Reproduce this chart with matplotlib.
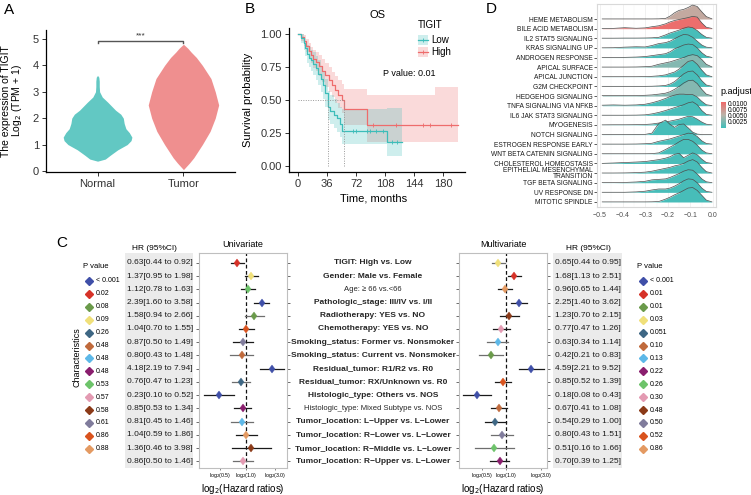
import numpy as np
import matplotlib
matplotlib.use('Agg')
import matplotlib.pyplot as plt
from matplotlib.colors import LinearSegmentedColormap, Normalize
from matplotlib.patches import Rectangle
import matplotlib.colorbar as mcolorbar

plt.rcParams['font.family'] = ['Liberation Sans', 'DejaVu Sans']

# ---------------- data ----------------
# A: violin outlines (expression value, half width)
groups = ['Normal', 'Tumor']
normal_y = [0.37, 0.45, 0.6, 0.8, 1.0, 1.15, 1.28, 1.45, 1.6, 1.8, 2.0, 2.15, 2.3, 2.45, 2.6, 2.8, 3.0, 3.2, 3.4, 3.55, 3.62]
normal_w = [0.0, 0.09, 0.15, 0.235, 0.345, 0.39, 0.40, 0.37, 0.33, 0.31, 0.30, 0.27, 0.21, 0.165, 0.12, 0.055, 0.024, 0.02, 0.02, 0.015, 0.0]
tumor_y = [0.05, 0.3, 0.5, 0.75, 1.0, 1.5, 2.0, 2.5, 3.0, 3.5, 4.0, 4.3, 4.5, 4.65, 4.8]
tumor_w = [0.0, 0.07, 0.12, 0.17, 0.22, 0.31, 0.37, 0.41, 0.37, 0.32, 0.22, 0.15, 0.09, 0.05, 0.0]

# B: Kaplan-Meier, months
low_time = [0, 4, 7, 9, 11, 13, 16, 19, 22, 25, 28, 31, 34, 37, 40, 44, 48, 52, 54, 110, 129]
low_surv = [1.0, 0.97, 0.93, 0.89, 0.85, 0.82, 0.80, 0.775, 0.74, 0.70, 0.66, 0.61, 0.55, 0.45, 0.42, 0.39, 0.36, 0.32, 0.265, 0.18, 0.18]
low_lower = [1.0, 0.93, 0.88, 0.83, 0.78, 0.75, 0.72, 0.69, 0.65, 0.61, 0.56, 0.51, 0.45, 0.35, 0.32, 0.29, 0.26, 0.22, 0.17, 0.075, 0.075]
low_upper = [1.0, 1.0, 0.98, 0.95, 0.92, 0.90, 0.88, 0.86, 0.83, 0.80, 0.76, 0.72, 0.66, 0.57, 0.54, 0.51, 0.48, 0.45, 0.43, 0.44, 0.44]
low_censor = [68, 72, 85, 89, 97, 105, 117, 123]
high_time = [0, 4, 7, 10, 13, 16, 19, 22, 26, 30, 34, 38, 42, 46, 50, 54, 57, 85, 170, 198]
high_surv = [1.0, 0.98, 0.95, 0.91, 0.87, 0.84, 0.81, 0.79, 0.76, 0.72, 0.69, 0.655, 0.61, 0.575, 0.54, 0.50, 0.43, 0.31, 0.31, 0.31]
high_lower = [1.0, 0.95, 0.91, 0.86, 0.82, 0.78, 0.74, 0.72, 0.68, 0.64, 0.60, 0.56, 0.52, 0.48, 0.44, 0.40, 0.31, 0.18, 0.18, 0.18]
high_upper = [1.0, 1.0, 0.99, 0.96, 0.93, 0.90, 0.88, 0.86, 0.84, 0.81, 0.78, 0.75, 0.71, 0.68, 0.65, 0.62, 0.585, 0.54, 0.60, 0.60]
high_censor = [93, 122, 155, 163, 190]
low_median = 37
high_median = 57

# C: forest plot
characteristics = ['TIGIT: High vs. Low', 'Gender: Male vs. Female', 'Age: \u2265 66 vs.<66',
                   'Pathologic_stage: III/IV vs. I/II', 'Radiotherapy: YES vs. NO',
                   'Chemotherapy: YES vs. NO', 'Smoking_status: Former vs. Nonsmoker',
                   'Smoking_status: Current vs. Nonsmoker', 'Residual_tumor: R1/R2 vs. R0',
                   'Residual_tumor: RX/Unknown vs. R0', 'Histologic_type: Others vs. NOS',
                   'Histologic_type: Mixed Subtype vs. NOS', 'Tumor_location: L\u2212Upper vs. L\u2212Lower',
                   'Tumor_location: R\u2212Lower vs. L\u2212Lower', 'Tumor_location: R\u2212Middle vs. L\u2212Lower',
                   'Tumor_location: R\u2212Upper vs. L\u2212Lower']
uni_hr = [0.63, 1.37, 1.12, 2.39, 1.58, 1.04, 0.87, 0.80, 4.18, 0.76, 0.23, 0.85, 0.81, 1.04, 1.36, 0.86]
uni_lo = [0.44, 0.95, 0.78, 1.60, 0.94, 0.70, 0.50, 0.43, 2.19, 0.47, 0.10, 0.53, 0.45, 0.59, 0.46, 0.50]
uni_hi = [0.92, 1.98, 1.63, 3.58, 2.66, 1.55, 1.49, 1.48, 7.94, 1.23, 0.52, 1.34, 1.46, 1.86, 3.98, 1.46]
multi_hr = [0.65, 1.68, 0.96, 2.25, 1.23, 0.77, 0.63, 0.42, 4.59, 0.85, 0.18, 0.67, 0.54, 0.80, 0.51, 0.70]
multi_lo = [0.44, 1.13, 0.65, 1.40, 0.70, 0.47, 0.34, 0.21, 2.21, 0.52, 0.08, 0.41, 0.29, 0.43, 0.16, 0.39]
multi_hi = [0.95, 2.51, 1.44, 3.62, 2.15, 1.26, 1.14, 0.83, 9.52, 1.39, 0.43, 1.08, 1.00, 1.51, 1.66, 1.25]
uni_p_labels = ['< 0.001', '0.02', '0.08', '0.09', '0.26', '0.48', '0.48', '0.48', '0.53', '0.57', '0.58', '0.61', '0.86', '0.88']
multi_p_labels = ['< 0.001', '0.01', '0.01', '0.03', '0.051', '0.10', '0.13', '0.22', '0.26', '0.30', '0.48', '0.50', '0.52', '0.86']
p_palette = ['#3F4FA8', '#D63228', '#6A9A4A', '#F0E07A', '#3E6784', '#C06A3C', '#5DB8E8',
             '#8A1E6E', '#6DC36A', '#E39AB2', '#8B3A18', '#807C9C', '#D9531E', '#E49A62']
uni_color = [1, 3, 8, 0, 2, 12, 11, 5, 0, 4, 0, 7, 6, 13, 10, 9]
multi_color = [3, 1, 13, 0, 10, 9, 6, 2, 0, 12, 0, 5, 4, 11, 8, 7]
uni_gray_rows = [4, 7, 9, 12, 15]
multi_gray_rows = [0, 6, 7, 13, 14]

# D: ridge densities on a shared grid
ridge_x = [-0.49, -0.44, -0.39, -0.34, -0.30, -0.27, -0.24, -0.21, -0.19, -0.17,
           -0.15, -0.13, -0.11, -0.09, -0.07, -0.05, -0.03, -0.005]
pathways = ['HEME METABOLISM', 'BILE ACID METABOLISM', 'IL2 STAT5 SIGNALING', 'KRAS SIGNALING UP',
            'ANDROGEN RESPONSE', 'APICAL SURFACE', 'APICAL JUNCTION', 'G2M CHECKPOINT',
            'HEDGEHOG SIGNALING', 'TNFA SIGNALING VIA NFKB', 'IL6 JAK STAT3 SIGNALING', 'MYOGENESIS',
            'NOTCH SIGNALING', 'ESTROGEN RESPONSE EARLY', 'WNT BETA CATENIN SIGNALING',
            'CHOLESTEROL HOMEOSTASIS', 'EPITHELIAL MESENCHYMAL\nTRANSITION', 'TGF BETA SIGNALING',
            'UV RESPONSE DN', 'MITOTIC SPINDLE']
p_adjust = [0.0062, 0.0105, 0.0003, 0.0003, 0.0003, 0.0030, 0.0003, 0.0003, 0.0030, 0.0003,
            0.0003, 0.0003, 0.0003, 0.0003, 0.0003, 0.0003, 0.0003, 0.0003, 0.0003, 0.0003]
heme = [0.01, 0.01, 0.01, 0.01, 0.01, 0.01, 0.02, 0.06, 0.3, 0.65, 0.9, 1.0, 1.2, 1.45, 1.3, 0.75, 0.25, 0.02]
bile = [0.02, 0.03, 0.1, 0.04, 0.08, 0.2, 0.3, 0.5, 0.7, 0.85, 0.95, 1.05, 1.15, 1.28, 1.2, 0.6, 0.15, 0.02]
il2 = [0.01, 0.01, 0.02, 0.02, 0.03, 0.05, 0.1, 0.35, 0.55, 0.7, 0.85, 1.05, 1.18, 1.1, 0.8, 0.4, 0.1, 0.01]
kras = [0.01, 0.02, 0.08, 0.12, 0.1, 0.25, 0.45, 0.55, 0.7, 0.95, 1.2, 1.4, 1.35, 1.1, 0.7, 0.3, 0.08, 0.01]
androgen = [0.01, 0.01, 0.02, 0.05, 0.1, 0.2, 0.3, 0.4, 0.6, 0.9, 1.1, 1.3, 1.4, 1.35, 1.0, 0.5, 0.15, 0.01]
apical_surface = [0.01, 0.01, 0.01, 0.02, 0.05, 0.1, 0.3, 0.45, 0.55, 0.7, 0.85, 1.0, 1.2, 1.3, 1.2, 0.8, 0.3, 0.03]
apical_junction = [0.01, 0.01, 0.01, 0.01, 0.02, 0.05, 0.1, 0.2, 0.35, 0.5, 0.8, 1.2, 1.6, 1.7, 1.3, 0.7, 0.2, 0.01]
g2m = [0.01, 0.01, 0.01, 0.01, 0.01, 0.02, 0.05, 0.1, 0.25, 0.5, 0.9, 1.3, 1.55, 1.6, 1.2, 0.6, 0.15, 0.01]
hedgehog = [0.05, 0.05, 0.05, 0.05, 0.08, 0.12, 0.2, 0.3, 0.45, 0.7, 1.0, 1.35, 1.6, 1.65, 1.3, 0.7, 0.2, 0.02]
tnfa = [0.05, 0.08, 0.05, 0.08, 0.15, 0.3, 0.5, 0.75, 0.95, 1.1, 1.2, 1.2, 1.15, 1.15, 0.9, 0.45, 0.1, 0.01]
il6 = [0.01, 0.01, 0.01, 0.02, 0.05, 0.15, 0.3, 0.5, 0.65, 0.8, 0.95, 1.1, 1.3, 1.4, 1.1, 0.5, 0.1, 0.01]
myogenesis = [0.01, 0.02, 0.02, 0.03, 0.05, 0.1, 0.2, 0.3, 0.4, 0.5, 0.6, 0.75, 0.9, 0.85, 0.6, 0.3, 0.08, 0.01]
notch = [0.01, 0.01, 0.01, 0.02, 0.02, 0.15, 1.15, 1.5, 1.05, 0.75, 1.05, 1.1, 0.7, 0.25, 0.05, 0.01, 0.01, 0.01]
estrogen = [0.01, 0.01, 0.01, 0.02, 0.05, 0.1, 0.3, 0.45, 0.55, 0.7, 0.85, 1.0, 1.15, 1.1, 0.8, 0.35, 0.08, 0.01]
wnt = [0.01, 0.01, 0.01, 0.01, 0.01, 0.02, 0.1, 0.45, 0.7, 0.95, 1.25, 1.5, 1.5, 1.3, 0.9, 0.4, 0.1, 0.01]
cholesterol = [0.01, 0.05, 0.1, 0.15, 0.2, 0.3, 0.4, 0.55, 0.7, 0.95, 1.05, 0.6, 0.85, 1.1, 0.9, 0.45, 0.1, 0.01]
emt = [0.01, 0.01, 0.02, 0.05, 0.1, 0.2, 0.35, 0.5, 0.6, 0.75, 0.85, 1.0, 1.25, 1.4, 1.15, 0.6, 0.15, 0.01]
tgf = [0.01, 0.01, 0.03, 0.08, 0.15, 0.3, 0.35, 0.4, 0.55, 0.75, 0.95, 1.2, 1.35, 1.3, 0.9, 0.4, 0.1, 0.01]
uv = [0.01, 0.01, 0.01, 0.05, 0.12, 0.25, 0.35, 0.35, 0.45, 0.65, 0.9, 1.2, 1.4, 1.35, 1.0, 0.45, 0.1, 0.01]
mitotic = [0.01, 0.01, 0.01, 0.01, 0.01, 0.02, 0.05, 0.3, 0.5, 0.75, 0.95, 1.2, 1.45, 1.5, 1.2, 0.7, 0.2, 0.01]
ridge_heights = [heme, bile, il2, kras, androgen, apical_surface, apical_junction, g2m, hedgehog, tnfa,
                 il6, myogenesis, notch, estrogen, wnt, cholesterol, emt, tgf, uv, mitotic]

# ---------------- layout helpers ----------------
W, H = 751, 495
fig = plt.figure(figsize=(W / 100, H / 100), dpi=100)


def box(l, t, r, b):
    return [l / W, 1 - b / H, (r - l) / W, (b - t) / H]


def txt(x, y, s, **kw):
    fig.text(x / W, 1 - y / H, s, **kw)


teal = '#3DBDB9'
red = '#EE6C6C'
tick_col = '#333333'

# ---------------- A: violin ----------------
axA = fig.add_axes(box(46, 30, 235, 172))
axA.fill_betweenx(normal_y, 1 - np.array(normal_w), 1 + np.array(normal_w), color='#62C8C3', lw=0)
axA.fill_betweenx(tumor_y, 2 - np.array(tumor_w), 2 + np.array(tumor_w), color='#EF8F8F', lw=0)
axA.plot([1, 1, 2, 2], [4.84, 4.91, 4.91, 4.84], color='#555555', lw=1.0)
axA.text(1.5, 5.1, '***', ha='center', va='center', fontsize=6, color='#333333')
axA.set_xlim(0.4, 2.6)
axA.set_ylim(-0.04, 5.34)
axA.set_xticks([1, 2])
axA.set_xticklabels(groups)
axA.set_yticks(range(6))
axA.tick_params(labelsize=8, length=3, width=0.7, colors=tick_col, pad=2)
for s in ['top', 'right']:
    axA.spines[s].set_visible(False)
for s in ['left', 'bottom']:
    axA.spines[s].set_linewidth(0.9)
txt(6, 101, 'The expression of TIGIT', rotation=90, ha='center', va='center', fontsize=7.5)
txt(17, 101, 'Log$_2$ (TPM + 1)', rotation=90, ha='center', va='center', fontsize=7.5)
txt(9, 10, 'A', ha='center', va='center', fontsize=11)

# ---------------- B: Kaplan-Meier ----------------
axB = fig.add_axes(box(289, 28, 465, 172))
axB.fill_between(high_time, high_lower, high_upper, step='post', color=red, alpha=0.25, lw=0)
axB.fill_between(low_time, low_lower, low_upper, step='post', color=teal, alpha=0.25, lw=0)
axB.step(high_time, high_surv, where='post', color=red, lw=0.9)
axB.step(low_time, low_surv, where='post', color=teal, lw=0.9)
lc_y = np.array(low_surv)[np.searchsorted(low_time, low_censor, side='right') - 1]
hc_y = np.array(high_surv)[np.searchsorted(high_time, high_censor, side='right') - 1]
axB.plot(low_censor, lc_y, '+', color=teal, ms=3, mew=0.6)
axB.plot(high_censor, hc_y, '+', color=red, ms=3, mew=0.6)
axB.plot([0, high_median], [0.5, 0.5], color='#999999', lw=0.7, ls=(0, (1, 1.5)))
axB.plot([low_median, low_median], [0, 0.5], color='#999999', lw=0.7, ls=(0, (1, 1.5)))
axB.plot([high_median, high_median], [0, 0.5], color='#999999', lw=0.7, ls=(0, (1, 1.5)))
axB.set_xlim(-11.2, 207)
axB.set_ylim(-0.045, 1.045)
axB.set_xticks([0, 36, 72, 108, 144, 180])
axB.set_yticks([0, 0.25, 0.5, 0.75, 1.0])
axB.set_yticklabels(['0.00', '0.25', '0.50', '0.75', '1.00'])
axB.tick_params(labelsize=8, length=3, width=0.7, colors=tick_col, pad=2)
for s in ['top', 'right']:
    axB.spines[s].set_visible(False)
for s in ['left', 'bottom']:
    axB.spines[s].set_linewidth(0.9)
txt(248, 100, 'Survival probability', rotation=90, ha='center', va='center', fontsize=8)
txt(374, 199, 'Time, months', ha='center', va='center', fontsize=8)
txt(377, 15, 'OS', ha='center', va='center', fontsize=8)
txt(250, 9, 'B', ha='center', va='center', fontsize=11)
txt(409, 73, 'P value: 0.01', ha='center', va='center', fontsize=6.5)
txt(418, 25, 'TIGIT', ha='left', va='center', fontsize=7)

ov = fig.add_axes([0, 0, 1, 1])
ov.set_xlim(0, W)
ov.set_ylim(H, 0)
ov.set_axis_off()
for k, (lab, col) in enumerate([('Low', teal), ('High', red)]):
    yc = 40 + 12 * k
    ov.add_patch(Rectangle((418, yc - 5), 10, 10, color=col, alpha=0.25, lw=0))
    ov.plot([418, 428], [yc, yc], color=col, lw=0.9)
    ov.plot([423], [yc], '+', color=col, ms=3, mew=0.6)
    ov.text(431, yc, lab, ha='left', va='center', fontsize=7)

# ---------------- D: ridge plot ----------------
cmap = LinearSegmentedColormap.from_list('padj', ['#40BEBA', '#BBB4A9', '#EF6A6A'])
norm = Normalize(vmin=0.0, vmax=0.0108)
axD = fig.add_axes(box(597, 4, 716, 207))
n = len(pathways)
for i in range(n):
    base = n - i
    top = base + np.array(ridge_heights[i])
    axD.fill_between(ridge_x, base, top, color=cmap(norm(p_adjust[i])), lw=0, zorder=2 * i + 2)
    axD.plot(ridge_x, top, color='#4D4D4D', lw=0.5, zorder=2 * i + 3)
axD.set_xlim(-0.513, 0.013)
axD.set_ylim(0.48, 21.56)
axD.set_yticks([n - i for i in range(n)])
axD.set_yticklabels(pathways, fontsize=4.8, linespacing=0.75, multialignment='right')
axD.set_xticks([-0.5, -0.4, -0.3, -0.2, -0.1, 0.0])
axD.set_xticklabels(['\u22120.5', '\u22120.4', '\u22120.3', '\u22120.2', '\u22120.1', '0.0'])
axD.set_xticks([-0.45, -0.35, -0.25, -0.15, -0.05], minor=True)
axD.tick_params(axis='y', length=2, width=0.5, pad=1, colors='#1A1A1A')
axD.tick_params(axis='x', which='both', length=0, pad=3.5, labelsize=5, colors='#4D4D4D')
axD.grid(axis='x', which='major', color='#EBEBEB', lw=0.5, zorder=0)
axD.grid(axis='x', which='minor', color='#F3F3F3', lw=0.3, zorder=0)
axD.set_axisbelow(True)
for s in axD.spines.values():
    s.set_color('#D9D9D9')
    s.set_linewidth(0.8)
txt(491, 9, 'D', ha='center', va='center', fontsize=11)

cax = fig.add_axes(box(721, 102, 726, 128))
cb = mcolorbar.ColorbarBase(cax, cmap=cmap, norm=norm)
cb.set_ticks([0.0025, 0.005, 0.0075, 0.01])
cb.set_ticklabels(['0.0025', '0.0050', '0.0075', '0.0100'])
cb.outline.set_visible(False)
cax.tick_params(labelsize=4.8, length=0, pad=1.5)
txt(720, 92, 'p.adjust', ha='left', va='center', fontsize=6.5)

# ---------------- C: forest plots ----------------
rows = np.arange(len(characteristics))


def forest(ax, hr, lo, hi, cidx, grays, xlim, xticks, title):
    for i in rows:
        lcol = '#6E6E6E' if i in grays else '#1A1A1A'
        ax.plot([np.log2(lo[i]), np.log2(hi[i])], [i, i], color=lcol, lw=0.9, zorder=2)
        ax.plot(np.log2(hr[i]), i, marker='d', ms=4.5, color=p_palette[cidx[i]],
                mec=p_palette[cidx[i]], mew=0.3, zorder=3)
    ax.axvline(0, color='#111111', lw=0.9, ls=(0, (3, 2)), zorder=1)
    ax.set_xlim(*xlim)
    ax.set_ylim(15.5, -0.74)
    ax.set_yticks(rows)
    ax.set_yticklabels([])
    ax.tick_params(axis='y', left=True, right=True, length=2, width=0.6, color='#555555')
    ax.set_xticks(xticks)
    ax.set_xticklabels(['log$_2$(0.5)', 'log$_2$(1.0)', 'log$_2$(3.0)'], fontsize=3.8)
    ax.tick_params(axis='x', length=1.5, width=0.5, pad=1, color='#555555')
    for s in ax.spines.values():
        s.set_color('#BFBFBF')
        s.set_linewidth(0.8)
    ax.set_title(title, fontsize=6.5, pad=4.5)
    ax.set_xlabel('log$_2$(Hazard ratios)', fontsize=7, labelpad=1)


axU = fig.add_axes(box(199, 253, 287, 468))
forest(axU, uni_hr, uni_lo, uni_hi, uni_color, uni_gray_rows, (-3.68, 3.25), [-2, 0, 2.3], 'Univariate')
axM = fig.add_axes(box(459, 253, 547, 468))
forest(axM, multi_hr, multi_lo, multi_hi, multi_color, multi_gray_rows, (-3.99, 3.53), [-2, 0, 3], 'Multivariate')

for (l, r, hr, lo, hi, hx) in [(125, 193, uni_hr, uni_lo, uni_hi, 154), (553, 622, multi_hr, multi_lo, multi_hi, 588)]:
    axT = fig.add_axes(box(l, 253, r, 468))
    axT.set_facecolor('#EBEBEB')
    axT.set_xlim(0, 1)
    axT.set_ylim(15.5, -0.74)
    axT.set_xticks([])
    axT.set_yticks([])
    for s in axT.spines.values():
        s.set_visible(False)
    for i in rows:
        axT.text(0.03, i, f'{hr[i]:.2f}[{lo[i]:.2f} to {hi[i]:.2f}]', ha='left', va='center',
                 fontsize=6, color='#1A1A1A')
    txt(hx, 249, 'HR (95%CI)', ha='center', va='center', fontsize=6)

axL = fig.add_axes(box(291, 253, 455, 468))
axL.set_axis_off()
axL.set_xlim(0, 1)
axL.set_ylim(15.5, -0.74)
for i in rows:
    if i in (2, 11):
        axL.text(0.5, i, characteristics[i], ha='center', va='center', fontsize=5.5,
                 color='#262626')
    else:
        axL.text(0.5, i, characteristics[i], ha='center', va='center', fontsize=6,
                 fontweight='bold', color='#262626')

# p value legends
for (x0, labels) in [(83, uni_p_labels), (637, multi_p_labels)]:
    ov.text(x0, 267, 'P value', ha='left', va='center', fontsize=5.5)
    for k, lab in enumerate(labels):
        yk = 281 + 12.9 * k
        ov.plot([x0 + 6], [yk], marker='D', ms=4.5, color=p_palette[k], mec=p_palette[k])
        ov.text(x0 + 13, yk, lab, ha='left', va='center', fontsize=5)
txt(77, 357, 'Characteristics', rotation=90, ha='center', va='center', fontsize=6.5)
txt(62, 243, 'C', ha='center', va='center', fontsize=11)

fig.savefig('out.png', dpi=100)
